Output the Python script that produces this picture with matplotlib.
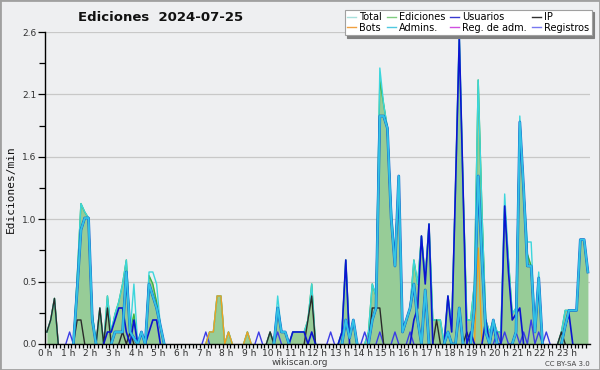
import numpy as np
import matplotlib
matplotlib.use("Agg")
import matplotlib.pyplot as plt
import matplotlib.patheffects as pe
from matplotlib.lines import Line2D
from matplotlib.patches import Rectangle

# 10-minute bins over the day (values are edits per minute), 12 bins = 2 hours per row
ediciones = [
    0.10, 0.20, 0.38, 0, 0, 0, 0, 0, 0.55, 1.17, 1.10, 1.05,
    0.25, 0, 0.30, 0, 0.40, 0.10, 0.25, 0.35, 0.50, 0.70, 0.10, 0.25,
    0, 0.10, 0, 0.57, 0.50, 0.35, 0.15, 0, 0, 0, 0, 0,
    0, 0, 0, 0, 0, 0, 0, 0.10, 0.10, 0.40, 0.40, 0,
    0.10, 0, 0, 0, 0, 0.10, 0, 0, 0, 0, 0, 0.10,
    0, 0.30, 0.10, 0.10, 0, 0.10, 0.10, 0.10, 0.10, 0.20, 0.50, 0,
    0, 0, 0, 0, 0, 0, 0.10, 0.70, 0.05, 0.20, 0, 0,
    0, 0.10, 0.50, 0.40, 2.20, 2.00, 1.80, 1.10, 0.70, 1.40, 0.10, 0.20,
    0.30, 0.70, 0.50, 0.90, 0.55, 1.00, 0.20, 0.20, 0.20, 0, 0.40, 0.15,
    1.30, 2.55, 1.30, 0.20, 0.20, 0.50, 2.20, 1.10, 0.20, 0.10, 0.20, 0.10,
    0.10, 1.15, 0.70, 0.25, 0.30, 1.85, 1.30, 0.75, 0.65, 0.10, 0.55, 0,
    0, 0, 0, 0, 0.10, 0.28, 0.28, 0.28, 0.28, 0.87, 0.87, 0.60,
]
total = [
    0.10, 0.20, 0.38, 0, 0, 0, 0, 0, 0.55, 1.17, 1.10, 1.05,
    0.25, 0, 0.30, 0, 0.40, 0.10, 0.25, 0.35, 0.50, 0.70, 0.10, 0.50,
    0, 0.10, 0, 0.60, 0.60, 0.50, 0.15, 0, 0, 0, 0, 0,
    0, 0, 0, 0, 0, 0, 0, 0.10, 0.10, 0.40, 0.40, 0,
    0.10, 0, 0, 0, 0, 0.10, 0, 0, 0, 0, 0, 0.10,
    0, 0.40, 0.10, 0.10, 0, 0.10, 0.10, 0.10, 0.10, 0.20, 0.50, 0,
    0, 0, 0, 0, 0, 0, 0.10, 0.70, 0.05, 0.20, 0, 0,
    0, 0.10, 0.50, 0.40, 2.30, 2.00, 1.80, 1.15, 0.70, 1.40, 0.15, 0.20,
    0.30, 0.70, 0.50, 0.90, 0.55, 1.00, 0.20, 0.20, 0.20, 0, 0.40, 0.15,
    1.30, 2.60, 1.30, 0.20, 0.20, 0.50, 2.20, 1.10, 0.20, 0.10, 0.20, 0.10,
    0.10, 1.25, 0.70, 0.25, 0.30, 1.90, 1.30, 0.85, 0.85, 0.15, 0.60, 0,
    0, 0, 0, 0, 0.10, 0.28, 0.28, 0.28, 0.28, 0.87, 0.87, 0.60,
]
usuarios = [
    0, 0, 0, 0, 0, 0, 0, 0, 0, 0, 0, 0,
    0, 0, 0, 0, 0.10, 0.10, 0.20, 0.30, 0.30, 0.10, 0, 0.20,
    0, 0, 0, 0.10, 0.20, 0.20, 0, 0, 0, 0, 0, 0,
    0, 0, 0, 0, 0, 0, 0, 0, 0, 0, 0, 0,
    0, 0, 0, 0, 0, 0, 0, 0, 0, 0, 0, 0,
    0, 0, 0, 0, 0, 0.10, 0.10, 0.10, 0.10, 0, 0.10, 0,
    0, 0, 0, 0, 0, 0, 0.10, 0.70, 0, 0, 0, 0,
    0, 0, 0, 0, 0, 0, 0, 0, 0, 0, 0, 0,
    0, 0.20, 0.30, 0.90, 0.50, 1.00, 0, 0, 0, 0, 0.40, 0.10,
    1.30, 2.55, 1.30, 0, 0.10, 0, 0, 0, 0.20, 0, 0.15, 0,
    0, 1.15, 0.60, 0.20, 0.25, 0.30, 0, 0, 0, 0, 0, 0,
    0, 0, 0, 0, 0, 0.15, 0.25, 0, 0, 0, 0, 0,
]
admins = [
    0, 0, 0, 0, 0, 0, 0, 0, 0.45, 0.95, 1.05, 1.05,
    0.20, 0, 0, 0, 0, 0, 0.10, 0.10, 0.10, 0.60, 0.10, 0.05,
    0, 0.10, 0, 0.50, 0.40, 0.30, 0.15, 0, 0, 0, 0, 0,
    0, 0, 0, 0, 0, 0, 0, 0, 0, 0, 0, 0,
    0, 0, 0, 0, 0, 0, 0, 0, 0, 0, 0, 0,
    0, 0.30, 0.10, 0.10, 0, 0, 0, 0, 0, 0, 0, 0,
    0, 0, 0, 0, 0, 0, 0, 0.20, 0.05, 0.20, 0, 0,
    0, 0, 0.20, 0.30, 1.90, 1.90, 1.80, 1.05, 0.65, 1.40, 0.10, 0.20,
    0.30, 0.50, 0.20, 0, 0.45, 0, 0, 0, 0, 0, 0.10, 0,
    0, 0.30, 0, 0, 0, 0.30, 1.40, 0.70, 0.10, 0, 0.20, 0,
    0, 0, 0, 0, 0.10, 1.85, 1.30, 0.65, 0.65, 0.10, 0.55, 0,
    0, 0, 0, 0, 0, 0.15, 0.28, 0.28, 0.28, 0.87, 0.87, 0.60,
]
ip = [
    0.10, 0.20, 0.38, 0, 0, 0, 0, 0, 0.20, 0.20, 0, 0,
    0, 0, 0.30, 0, 0.30, 0, 0, 0, 0.10, 0, 0.10, 0,
    0, 0, 0, 0, 0, 0, 0, 0, 0, 0, 0, 0,
    0, 0, 0, 0, 0, 0, 0, 0, 0, 0, 0, 0,
    0, 0, 0, 0, 0, 0, 0, 0, 0, 0, 0, 0.10,
    0, 0, 0, 0, 0, 0, 0, 0, 0, 0.20, 0.40, 0,
    0, 0, 0, 0, 0, 0, 0, 0, 0, 0, 0, 0,
    0, 0, 0.30, 0.30, 0.30, 0, 0, 0, 0, 0, 0, 0,
    0, 0, 0, 0, 0, 0, 0, 0.20, 0, 0, 0, 0,
    0, 0, 0, 0.10, 0, 0, 0, 0, 0, 0, 0, 0,
    0, 0, 0, 0, 0, 0, 0, 0, 0, 0, 0, 0,
    0, 0, 0, 0, 0.10, 0, 0, 0, 0, 0, 0, 0,
]
bots = [
    0, 0, 0, 0, 0, 0, 0, 0, 0, 0, 0, 0,
    0, 0, 0, 0, 0, 0, 0, 0, 0, 0, 0, 0,
    0, 0, 0, 0, 0, 0, 0, 0, 0, 0, 0, 0,
    0, 0, 0, 0, 0, 0, 0, 0.10, 0.10, 0.40, 0.40, 0,
    0.10, 0, 0, 0, 0, 0.10, 0, 0, 0, 0, 0, 0,
    0, 0, 0, 0, 0, 0, 0, 0, 0, 0, 0, 0,
    0, 0, 0, 0, 0, 0, 0, 0, 0, 0, 0, 0,
    0, 0, 0, 0, 0, 0, 0, 0, 0, 0, 0, 0,
    0, 0, 0, 0, 0, 0, 0, 0, 0, 0, 0, 0,
    0, 0, 0, 0, 0, 0, 0.80, 0, 0, 0, 0, 0,
    0, 0, 0, 0, 0, 0, 0, 0, 0, 0, 0, 0,
    0, 0, 0, 0, 0, 0, 0, 0, 0, 0, 0, 0,
]
registros = [
    0, 0, 0, 0, 0, 0, 0.10, 0, 0, 0, 0, 0,
    0, 0, 0, 0, 0, 0, 0, 0, 0, 0, 0, 0,
    0, 0, 0, 0, 0, 0, 0, 0, 0, 0, 0, 0,
    0, 0, 0, 0, 0, 0, 0.10, 0, 0, 0, 0, 0,
    0, 0, 0, 0, 0, 0, 0, 0, 0.10, 0, 0, 0,
    0, 0.10, 0, 0, 0, 0, 0, 0, 0, 0, 0, 0,
    0, 0, 0, 0.10, 0, 0, 0, 0, 0, 0, 0, 0,
    0.10, 0, 0, 0, 0.10, 0, 0, 0, 0.10, 0, 0, 0,
    0.10, 0, 0, 0, 0, 0, 0, 0, 0, 0, 0, 0,
    0, 0, 0, 0, 0, 0, 0, 0, 0, 0, 0, 0.10,
    0, 0.10, 0, 0, 0.10, 0, 0.10, 0, 0.20, 0, 0.10, 0,
    0.10, 0, 0, 0, 0, 0, 0, 0, 0, 0, 0, 0,
]
reg_adm = [0] * 144

hour_labels = [f"{h} h" for h in range(24)]
y_ticks = [0, 0.52, 1.04, 1.56, 2.08, 2.6]
y_labels = ["0.0", "0.5", "1.0", "1.6", "2.1", "2.6"]

BG = "#eeeff1"
x = (np.arange(len(ediciones)) + 0.5) / 6.0


def visible(vals):
    # hide runs of zeros so that only the spikes are drawn
    v = np.asarray(vals, dtype=float)
    nz = v > 0
    keep = nz.copy()
    keep[1:] |= nz[:-1]
    keep[:-1] |= nz[1:]
    return np.where(keep, v, np.nan)


fig = plt.figure(figsize=(6.0, 3.7), dpi=100, facecolor=BG)
ax = fig.add_axes([0.075, 0.0703, 0.908, 0.8432], facecolor=BG)

ax.fill_between(x, 0, ediciones, color="#97cc97", lw=0, zorder=2)
ax.plot(x, visible(ediciones), color="#3cb43c", lw=1.0, zorder=3)
ax.plot(x, visible(total), color="#3cd6dc", lw=1.0, zorder=3)
ax.plot(x, visible(registros), color="#3c3ce6", lw=1.0, zorder=4)
ax.plot(x, visible(bots), color="#f0a020", lw=1.0, zorder=4)
ax.plot(x, visible(ip), color="#2a2a2a", lw=1.0, zorder=4)
ax.plot(x, visible(usuarios), color="#0c14d0", lw=1.2, zorder=5)
ax.plot(x, visible(admins), color="#34c4e6", lw=1.0, zorder=6,
        path_effects=[pe.withStroke(linewidth=2.0, foreground="#1670d0"), pe.Normal()])

ax.set_xlim(0, 24)
ax.set_ylim(0, 2.6)
ax.set_xticks(range(24))
ax.set_xticklabels(hour_labels, fontsize=6.5, color="#303030")
ax.set_xticks(np.arange(0, 24, 1 / 6), minor=True)
ax.set_yticks(y_ticks)
ax.set_yticklabels(y_labels, fontsize=6.5, color="#303030")
ax.set_yticks(np.arange(0.26, 2.6, 0.52), minor=True)
ax.tick_params(axis="both", which="both", direction="out", color="black")
ax.tick_params(axis="x", which="both", length=3, width=0.9, pad=0.5)
ax.tick_params(axis="y", which="major", length=5, width=0.9, pad=1)
ax.tick_params(axis="y", which="minor", length=4, width=0.9)
ax.grid(axis="y", color="#c8c8c8", lw=0.9, zorder=1)
ax.set_axisbelow(True)
for side in ("top", "right"):
    ax.spines[side].set_visible(False)
for side in ("left", "bottom"):
    ax.spines[side].set_color("black")
    ax.spines[side].set_linewidth(1.0)
    ax.spines[side].set_zorder(7)

fig.text(0.268, 0.953, "Ediciones  2024-07-25", ha="center", va="center",
         fontsize=9.5, fontweight="bold", color="#111111")
fig.text(0.018, 0.49, "Ediciones/min", rotation=90, ha="center", va="center",
         fontsize=8, family="DejaVu Sans Mono", color="#111111")
fig.text(0.5, 0.019, "wikiscan.org", ha="center", va="center", fontsize=6.5, color="#404040")
fig.text(0.983, 0.017, "CC BY-SA 3.0", ha="right", va="center", fontsize=5, color="#404040")

legend_names = ["Total", "Bots", "Ediciones", "Admins.", "Usuarios", "Reg. de adm.", "IP", "Registros"]
legend_colors = ["#a8e0dc", "#f0a040", "#80cc80", "#50c8e0", "#3838d0", "#d050e0", "#303030", "#7878f0"]
handles = [Line2D([], [], color=c, lw=1.0) for c in legend_colors]
leg = fig.legend(handles, legend_names, ncol=4, loc="upper right",
                 bbox_to_anchor=(0.986, 0.974), fontsize=7, frameon=True,
                 fancybox=False, shadow={"color": "#808080", "alpha": 1.0},
                 handlelength=0.9, handletextpad=0.35, columnspacing=0.5,
                 labelspacing=0.05, borderpad=0.25, borderaxespad=0)
leg.get_frame().set_edgecolor("#a0a0a0")
leg.get_frame().set_facecolor("white")
leg.get_frame().set_linewidth(0.8)

fig.patches.append(Rectangle((0, 0), 1, 1, transform=fig.transFigure, fill=False,
                             edgecolor="#a0a0a0", lw=2.0, zorder=10))

fig.savefig("out.png", dpi=100, facecolor=BG)
